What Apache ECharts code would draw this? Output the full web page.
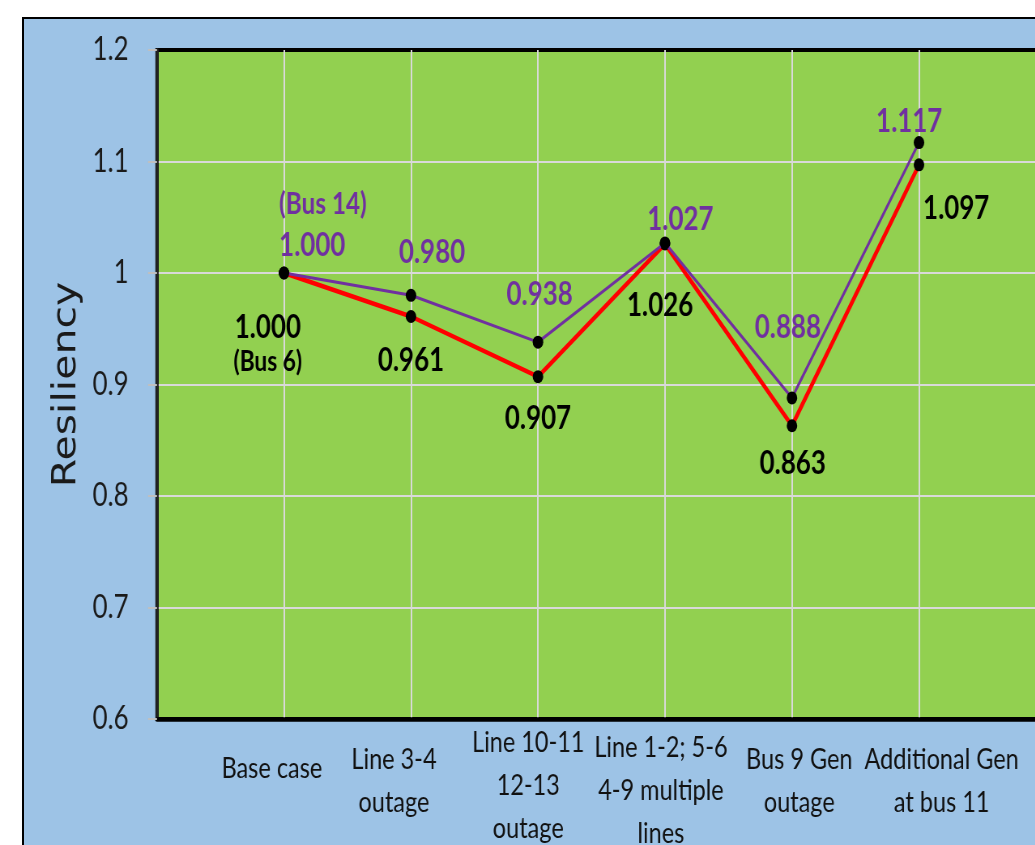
<!DOCTYPE html>
<html>
<head>
<meta charset="utf-8">
<script src="https://cdn.jsdelivr.net/npm/echarts@6/dist/echarts.min.js"></script>
<style>
  html, body { margin: 0; padding: 0; background: #ffffff; overflow: hidden; width: 1035px; height: 845px; }
  #frame { position: absolute; left: 22px; top: 17px; width: 1100px; height: 900px;
           border: 2px solid #000; background: #9DC3E6; }
  /* The chart is laid out wide and then condensed horizontally */
  #chart { position: absolute; left: 0; top: 0; width: 1300px; height: 845px;
           transform: scaleX(0.81); transform-origin: 0 0; }
</style>
</head>
<body>
<div id="frame"></div>
<div id="chart"></div>
<script>
// Scenario names (one entry per line of the axis label)
const categories = [
  ['Base case'],
  ['Line 3-4', 'outage'],
  ['Line 10-11', '12-13', 'outage'],
  ['Line 1-2; 5-6', '4-9 multiple', 'lines'],
  ['Bus 9 Gen', 'outage'],
  ['Additional Gen', 'at bus 11']
];

// Resiliency values
const bus14Values = [1.000, 0.980, 0.938, 1.027, 0.888, 1.117];
const bus6Values  = [1.000, 0.961, 0.907, 1.026, 0.863, 1.097];

// Y axis range and tick step
const yMin = 0.6, yMax = 1.2, yStep = 0.1;

// Notes attached to the first point of each series
const bus14Note = '(Bus 14)';
const bus6Note = '(Bus 6)';

// Label placement (offset of label centre from its point, px)
const bus14LabelOffsets = [[-6, -48], [26, -43], [2, -47], [19, -23], [-5, -70], [-12, -21]];
const bus6LabelOffsets  = [[-20, 72], [0, 44], [0, 42], [-6, 62], [1, 38], [46, 44]];
// Nudges of the category labels [dx, dy] (px)
const catShift = [[-15, -12], [-21, 0], [-12, 5], [-5, 10], [9, -2], [28, -2]];

const FONT = 'Lato, "Open Sans", sans-serif';
const PURPLE = '#7030A0';
const RED = '#FF0000';

function buildData(values, offsets, firstLabel) {
  return values.map((v, i) => {
    const item = { value: [i + 1, v], label: { offset: offsets[i] } };
    if (i === 0) Object.assign(item.label, firstLabel);
    return item;
  });
}

const catRich = {};
catShift.forEach(([dx, dy], i) => {
  catRich['c' + i] = {
    fontFamily: FONT, fontSize: 29, color: '#111', lineHeight: 43,
    padding: dx < 0 ? [0, -2 * dx, 0, 0] : [0, 0, 0, 2 * dx]
  };
  if (Math.abs(dy) >= 4) {
    catRich['g' + i] = { fontSize: 4, lineHeight: 2 * Math.abs(dy) };
  }
});

const chart = echarts.init(document.getElementById('chart'), null, { renderer: 'canvas' });

const labelBase = {
  show: true,
  position: 'inside',
  fontFamily: FONT,
  fontWeight: 'bold',
  fontSize: 32
};

chart.setOption({
  backgroundColor: 'transparent',
  animation: false,
  grid: {
    left: 193.8, top: 50, width: 1097.5, height: 669,
    outerBoundsMode: 'none',
    containLabel: false,
    show: true, backgroundColor: '#92D050', borderColor: '#000', borderWidth: 4
  },
  xAxis: {
    type: 'value', min: 0, max: categories.length + 1, interval: 1,
    axisLine: { show: true, lineStyle: { color: '#000', width: 4.5 } },
    axisTick: { show: false },
    splitLine: { show: true, showMinLine: false, showMaxLine: false,
                 lineStyle: { color: '#D9D9D9', width: 2 } },
    axisLabel: {
      margin: 62,
      verticalAlign: 'middle',
      align: 'center',
      lineHeight: 43,
      fontFamily: FONT, fontSize: 29, color: '#111',
      rich: catRich,
      formatter: v => {
        const i = Math.round(v) - 1;
        if (i < 0 || i >= categories.length) return '';
        const lines = categories[i].map(s => '{c' + i + '|' + s + '}');
        const dy = catShift[i][1];
        if (Math.abs(dy) >= 4) {
          if (dy > 0) lines.unshift('{g' + i + '| }');
          else lines.push('{g' + i + '| }');
        }
        return lines.join('\n');
      }
    }
  },
  yAxis: {
    type: 'value', min: yMin, max: yMax, interval: yStep,
    name: 'Resiliency', nameLocation: 'middle', nameRotate: 90, nameGap: 88,
    nameTextStyle: { fontFamily: '"DejaVu Sans", sans-serif', fontSize: 41, color: '#1a1a1a' },
    axisLine: { show: true, lineStyle: { color: '#222', width: 3.7 } },
    axisTick: { show: true, length: 11, lineStyle: { color: '#BFBFBF', width: 2 } },
    splitLine: { show: true, showMinLine: false, showMaxLine: false,
                 lineStyle: { color: '#D9D9D9', width: 2 } },
    axisLabel: { margin: 35, fontFamily: FONT, fontSize: 32, color: '#1a1a1a' }
  },
  series: [
    {
      name: 'Bus 6',
      type: 'line',
      z: 2,
      symbol: 'circle', symbolSize: 13,
      itemStyle: { color: '#000' },
      lineStyle: { color: RED, width: 4.5 },
      label: Object.assign({}, labelBase, {
        color: '#000',
        formatter: p => p.dataIndex === 0
          ? '{v|' + p.value[1].toFixed(3) + '}\n{n|' + bus6Note + '}'
          : p.value[1].toFixed(3),
        rich: {
          v: { fontFamily: FONT, fontWeight: 'bold', fontSize: 32, color: '#000', lineHeight: 34 },
          n: { fontFamily: FONT, fontWeight: 'bold', fontSize: 28, color: '#000', lineHeight: 34 }
        }
      }),
      data: buildData(bus6Values, bus6LabelOffsets, {})
    },
    {
      name: 'Bus 14',
      type: 'line',
      z: 3,
      symbol: 'circle', symbolSize: 13,
      itemStyle: { color: '#000' },
      lineStyle: { color: PURPLE, width: 3 },
      label: Object.assign({}, labelBase, {
        color: PURPLE,
        formatter: p => p.dataIndex === 0
          ? '{n|' + bus14Note + '}\n{v|' + p.value[1].toFixed(3) + '}'
          : p.value[1].toFixed(3),
        rich: {
          v: { fontFamily: FONT, fontWeight: 'bold', fontSize: 32, color: PURPLE, lineHeight: 42, align: 'left' },
          n: { fontFamily: FONT, fontWeight: 'bold', fontSize: 30, color: PURPLE, lineHeight: 42, align: 'left' }
        }
      }),
      data: buildData(bus14Values, bus14LabelOffsets, { align: 'left' })
    }
  ]
});
</script>
</body>
</html>
